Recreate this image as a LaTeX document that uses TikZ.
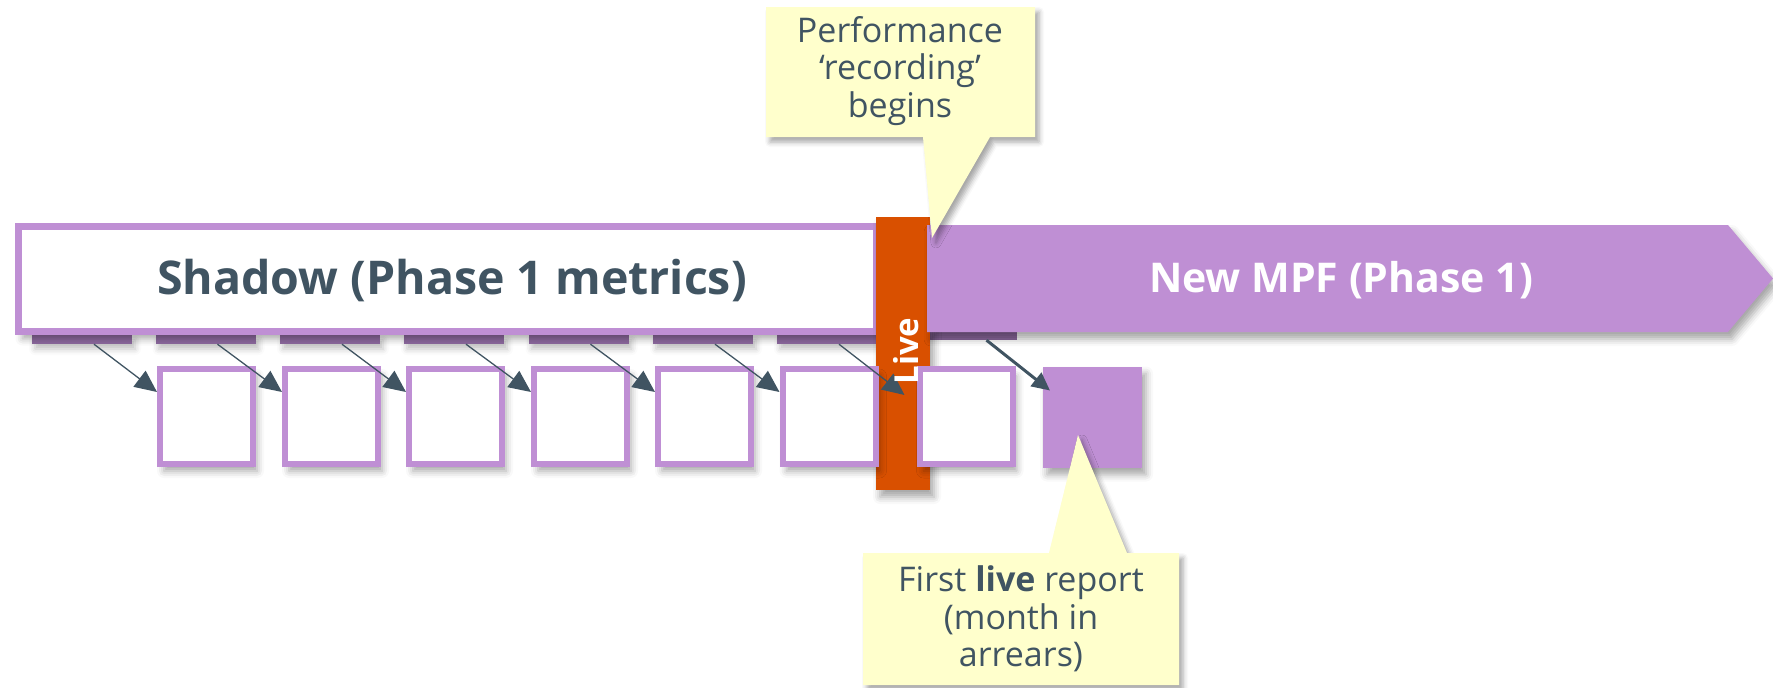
\documentclass[tikz,border=0pt]{standalone}
\usepackage{fontspec}
\setmainfont{Open Sans}
\usetikzlibrary{shadows.blur,arrows.meta}
\definecolor{mpurple}{RGB}{191,143,212}
\definecolor{mtab}{RGB}{142,106,160}
\definecolor{slate}{RGB}{64,84,98}
\definecolor{liveorange}{RGB}{217,80,0}
\definecolor{note}{RGB}{255,255,204}
\tikzset{
  sh/.style={blur shadow={shadow xshift=4pt,shadow yshift=-7pt,shadow blur radius=7pt,shadow opacity=35}},
  monthbox/.style={draw=mpurple,line width=6pt,fill=white,minimum width=93pt,minimum height=95pt,inner sep=0pt,sh},
  tab/.style={fill=mtab,minimum width=100pt,minimum height=9pt,inner sep=0pt},
  arr/.style={draw=slate,line width=1.3pt,-{Triangle[length=22pt,width=20pt]}},
  bigarr/.style={draw=slate,line width=3pt,-{Triangle[length=18pt,width=17pt]}},
  callout/.style={fill=note,blur shadow={shadow xshift=4pt,shadow yshift=-5pt,shadow blur radius=5pt,shadow opacity=35}},
  notetext/.style={align=center,text=slate,font=\fontsize{34}{37.5}\selectfont,inner sep=0pt},
}
\begin{document}
\begin{tikzpicture}[x=1pt,y=-1pt]
\useasboundingbox (0,0) rectangle (1773,688);
% tabs behind the banner
\foreach \n/\x in {0/82,1/205.5,2/330,3/454,4/578.5,5/703,6/827}
  \node[tab,blur shadow={shadow xshift=3pt,shadow yshift=-5pt,shadow blur radius=6pt,shadow opacity=25}] (t\n) at (\x,339.5) {};
\node[tab,minimum width=93pt,minimum height=8pt] (t7) at (970.5,336) {};
% shadow banner
\node[draw=mpurple,line width=7pt,fill=white,minimum width=858pt,minimum height=105pt,inner sep=0pt,sh] (shadowbar) at (447.5,279) {};
\node[text=slate,font=\fontsize{46.5}{56}\selectfont\bfseries,inner sep=0pt] (shadowtxt) at (452,281) {Shadow (Phase 1 metrics)};
% live bar
\node[fill=liveorange,minimum width=54pt,minimum height=273pt,inner sep=0pt,sh] (live) at (903,353.5) {};
% new MPF arrow
\path[fill=mpurple,sh] (927,225) coordinate (m1) -- (1728,225) coordinate (m2) -- (1773,278.5) coordinate (mtip)
   -- (1728,332) coordinate (m3) -- (927,332) coordinate (m4) -- cycle;
\node[text=white,font=\fontsize{41}{50}\selectfont\bfseries,inner sep=0pt] (mpf) at (1341,280) {New MPF (Phase 1)};
% month boxes
\foreach \n/\x in {1/206.5,2/331.5,3/455.5,4/580.5,5/704.5,6/829,7/966}
  \node[monthbox] (b\n) at (\x,416.5) {};
\node[monthbox,draw=none,fill=mpurple,minimum width=99pt,minimum height=101pt] (b8) at (1092.5,417) {};
% arrows
\foreach \p/\n in {0/1,1/2,2/3,3/4,4/5,5/6}
  \draw[arr] ([xshift=12pt]t\p.south) -- ([yshift=24.5pt]b\n.west);
\draw[arr] ([xshift=12pt]t6.south) -- ([xshift=-12pt,yshift=21.5pt]b7.west);
\draw[bigarr] ([xshift=16pt]t7.south) -- ([xshift=10pt,yshift=26.5pt]b8.west);
% live label
\node[rotate=90,text=white,font=\fontsize{33}{33}\selectfont\bfseries,inner sep=0pt] (livetxt) at (906,351) {Live};
% callout 1
\path[callout] (766,7) coordinate (c1a) -- (1035,7) -- (1035,137) -- (990,137) -- (932,238) coordinate (c1tip)
   -- (923,137) -- (766,137) -- cycle;
\node[notetext] (c1) at (900,71) {Performance\\‘recording’\\begins};
% callout 2
\path[callout] (863,553) coordinate (c2a) -- (1049,553) -- (1078,435) coordinate (c2tip) -- (1127,553)
   -- (1179,553) -- (1179,685) -- (863,685) -- cycle;
\node[notetext] (c2) at (1021,619) {First \textbf{live} report\\(month in\\arrears)};
\end{tikzpicture}
\end{document}
